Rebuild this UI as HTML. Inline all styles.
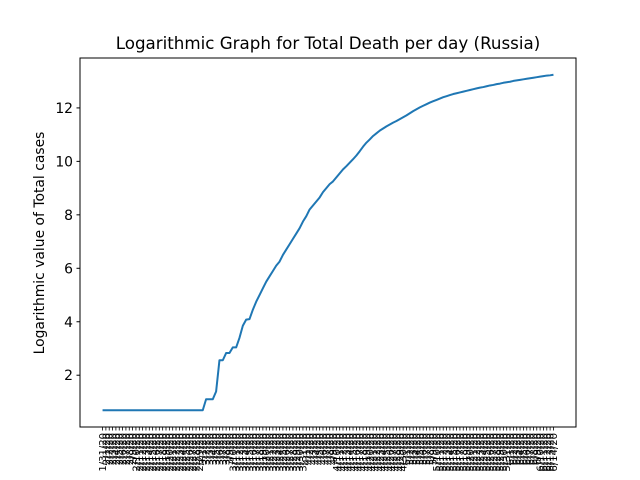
<!DOCTYPE html>
<html><head><meta charset="utf-8"><style>
html,body{margin:0;padding:0;background:#fff}
svg{display:block;font-family:"DejaVu Sans","Liberation Sans",sans-serif}
</style></head><body>
<svg id="chart" width="640" height="480">
<rect x="0" y="0" width="640" height="480" fill="#fff"/>
<text x="328" y="49" font-size="16.7" text-anchor="middle">Logarithmic Graph for Total Death per day (Russia)</text>
<text transform="translate(44,243) rotate(-90)" font-size="13.9" text-anchor="middle">Logarithmic value of Total cases</text>
<g id="yticks"></g><g id="xticks"></g>
<path id="line" fill="none" stroke="#1f77b4" stroke-width="2" stroke-linejoin="round"/>
<rect x="80" y="58" width="496" height="369" fill="none" stroke="#000" stroke-width="1"/>
</svg>
<script>
const values = [0.69,0.69,0.69,0.69,0.69,0.69,0.69,0.69,0.69,0.69,
0.69,0.69,0.69,0.69,0.69,0.69,0.69,0.69,0.69,0.69,
0.69,0.69,0.69,0.69,0.69,0.69,0.69,0.69,0.69,0.69,
0.69,1.10,1.10,1.10,1.39,2.56,2.56,2.83,2.83,3.04,
3.04,3.4,3.85,4.08,4.1,4.45,4.75,5.0,5.25,5.5,
5.7,5.9,6.1,6.25,6.5,6.7,6.9,7.1,7.3,7.5,
7.75,7.95,8.2,8.35,8.5,8.65,8.85,9.0,9.15,9.25,
9.4,9.55,9.7,9.82,9.95,10.08,10.22,10.38,10.55,10.7,
10.82,10.95,11.05,11.15,11.23,11.31,11.38,11.45,11.51,11.58,
11.65,11.72,11.8,11.88,11.95,12.02,12.08,12.14,12.2,12.25,
12.3,12.35,12.4,12.44,12.48,12.52,12.55,12.58,12.61,12.64,
12.67,12.7,12.73,12.76,12.78,12.81,12.84,12.86,12.89,12.91,
12.94,12.96,12.98,13.01,13.03,13.05,13.07,13.09,13.11,13.13,
13.15,13.17,13.19,13.21,13.22,13.24];
const yTicks = [2,4,6,8,10,12];
const startDate = [2020,0,31];
const NS='http://www.w3.org/2000/svg';
const L=80,R=576,T=58,B=427;
const n=values.length;
const vmin=Math.min(...values),vmax=Math.max(...values);
const ylo=vmin-(vmax-vmin)*0.05, yhi=vmax+(vmax-vmin)*0.05;
const xlo=-(n-1)*0.05, xhi=(n-1)*1.05;
function xs(i){return L+(i-xlo)/(xhi-xlo)*(R-L);}
function ys(v){return B-(v-ylo)/(yhi-ylo)*(B-T);}
let d='';
values.forEach((v,i)=>{d+=(i?'L':'M')+xs(i).toFixed(2)+','+ys(v).toFixed(2);});
document.getElementById('line').setAttribute('d',d);
const yg=document.getElementById('yticks');
yTicks.forEach(t=>{
  const y=ys(t);
  const ln=document.createElementNS(NS,'line');
  ln.setAttribute('x1',L-3.5);ln.setAttribute('x2',L);ln.setAttribute('y1',y);ln.setAttribute('y2',y);ln.setAttribute('stroke','#000');
  
  
  yg.appendChild(ln);
  const tx=document.createElementNS(NS,'text');
  tx.setAttribute('x',L-7);tx.setAttribute('y',y+5);tx.setAttribute('text-anchor','end');tx.setAttribute('font-size','13.9');
  tx.textContent=t;
  
  
  yg.appendChild(tx);
});
const xg=document.getElementById('xticks');
for(let i=0;i<n;i++){
  const dt=new Date(startDate[0],startDate[1],startDate[2]+i);
  const lab=(dt.getMonth()+1)+'/'+dt.getDate()+'/20';
  const x=xs(i);
  const ln=document.createElementNS(NS,'line');
  ln.setAttribute('x1',x);ln.setAttribute('x2',x);ln.setAttribute('y1',B);ln.setAttribute('y2',B+3.5);ln.setAttribute('stroke','#000');ln.setAttribute('stroke-width','0.8');
  
  
  xg.appendChild(ln);
  const tx=document.createElementNS(NS,'text');
  tx.setAttribute('transform','translate('+(x+3.5)+','+(B+6)+') rotate(-90)');
  tx.setAttribute('text-anchor','end');tx.setAttribute('font-size','10');
  tx.textContent=lab;
  
  
  xg.appendChild(tx);
}
</script>
</body></html>
